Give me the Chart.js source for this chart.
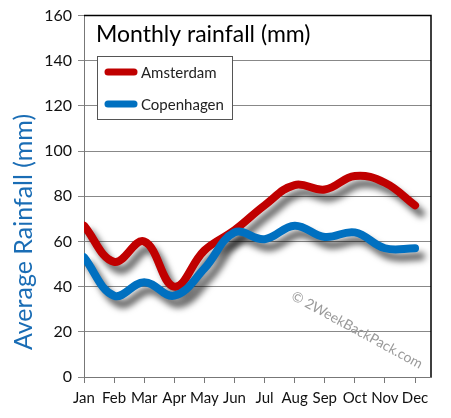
<!DOCTYPE html>
<html>
<head>
<meta charset="utf-8">
<script src="https://cdn.jsdelivr.net/npm/chart.js@4/dist/chart.umd.min.js"></script>
<style>
  html, body { margin: 0; padding: 0; background: #fff; }
  canvas { display: block; }
</style>
</head>
<body>
<canvas id="chart" width="451" height="418"></canvas>
<script>
const months = ["Jan", "Feb", "Mar", "Apr", "May", "Jun", "Jul", "Aug", "Sep", "Oct", "Nov", "Dec"];
const amsterdam = [67, 51, 60, 40, 56, 65, 76, 85, 83, 89, 86, 76];
const copenhagen = [53, 36, 42, 36, 48, 64, 61, 67, 62, 64, 57, 57];
const yMin = 0;
const yMax = 160;
const yStep = 20;

const chartTitle = "Monthly rainfall (mm)";
const yTitle = "Average Rainfall (mm)";
const watermark = "\u00a9 2WeekBackPack.com";

const RED = "#c00000";
const BLUE = "#0070c0";
const FONT = "Lato, 'Open Sans', sans-serif";

const toPoints = (arr) => arr.map((v, i) => ({ x: i, y: v }));

// gray drop shadow under each series
const shadowPlugin = {
  id: "shadow",
  beforeDatasetDraw(chart) {
    const ctx = chart.ctx;
    ctx.save();
    ctx.shadowColor = "rgba(0,0,0,0.6)";
    ctx.shadowBlur = 6;
    ctx.shadowOffsetX = 6;
    ctx.shadowOffsetY = 8;
  },
  afterDatasetDraw(chart) {
    chart.ctx.restore();
  },
};

// frame, title, legend box, axis title and watermark
const decorPlugin = {
  id: "decor",
  beforeDatasetsDraw(chart) {
    const { ctx } = chart;
    ctx.save();
    ctx.translate(357, 330);
    ctx.rotate((28.5 * Math.PI) / 180);
    ctx.fillStyle = "#9a9a9a";
    ctx.font = "14px " + FONT;
    ctx.textAlign = "center";
    ctx.textBaseline = "middle";
    ctx.fillText(watermark, 0, 0);
    ctx.restore();
  },
  afterDraw(chart) {
    const { ctx, chartArea: a } = chart;
    ctx.save();
    // top and right frame
    ctx.strokeStyle = "#000";
    ctx.lineWidth = 1.5;
    ctx.beginPath();
    ctx.moveTo(a.left, a.top);
    ctx.lineTo(a.right, a.top);
    ctx.lineTo(a.right, a.bottom);
    ctx.stroke();

    // chart title
    ctx.fillStyle = "#000";
    ctx.font = "23px " + FONT;
    ctx.textBaseline = "alphabetic";
    ctx.textAlign = "left";
    ctx.fillText(chartTitle, 96, 42);

    // legend box
    ctx.fillStyle = "#fff";
    ctx.fillRect(97, 56, 135, 63);
    ctx.strokeStyle = "#555";
    ctx.lineWidth = 1;
    ctx.strokeRect(97.5, 56.5, 135, 63);
    chart.data.datasets.forEach((ds, i) => {
      const y = 72 + i * 32;
      ctx.strokeStyle = ds.borderColor;
      ctx.lineWidth = 7;
      ctx.lineCap = "round";
      ctx.beginPath();
      ctx.moveTo(108, y);
      ctx.lineTo(134, y);
      ctx.stroke();
      ctx.fillStyle = "#222";
      ctx.font = "15px " + FONT;
      ctx.textBaseline = "middle";
      ctx.fillText(ds.label, 141, y + 1);
    });

    // y axis title
    ctx.translate(24, 232);
    ctx.rotate(-Math.PI / 2);
    ctx.fillStyle = "#1a6db5";
    ctx.font = "25px " + FONT;
    ctx.textAlign = "center";
    ctx.textBaseline = "middle";
    ctx.fillText(yTitle, 0, 0);
    ctx.restore();
  },
};

new Chart(document.getElementById("chart"), {
  type: "line",
  data: {
    datasets: [
      {
        label: "Amsterdam",
        data: toPoints(amsterdam),
        borderColor: RED,
        backgroundColor: RED,
        order: 2,
      },
      {
        label: "Copenhagen",
        data: toPoints(copenhagen),
        borderColor: BLUE,
        backgroundColor: BLUE,
        order: 1,
      },
    ],
  },
  options: {
    responsive: false,
    animation: false,
    devicePixelRatio: 1,
    layout: { padding: { top: 12, right: 20, left: 0, bottom: 0 } },
    elements: {
      line: { borderWidth: 8, tension: 0.4, borderCapStyle: "round", borderJoinStyle: "round" },
      point: { radius: 0 },
    },
    plugins: {
      legend: { display: false },
      tooltip: { enabled: false },
    },
    scales: {
      x: {
        type: "linear",
        min: 0,
        max: 11.53,
        afterFit: (s) => { s.height = 41; },
        ticks: {
          stepSize: 1,
          includeBounds: false,
          autoSkip: false,
          maxRotation: 0,
          padding: 6,
          color: "#111",
          font: { family: FONT, size: 15 },
          callback: (v) => months[v],
        },
        grid: { drawOnChartArea: false, drawTicks: true, tickLength: 6, color: "#777" },
        border: { color: "#777", width: 1 },
      },
      y: {
        min: yMin,
        max: yMax,
        afterFit: (s) => { s.width = 84; },
        ticks: {
          stepSize: yStep,
          padding: 6,
          color: "#111",
          font: { family: FONT, size: 16 },
        },
        grid: { color: "#888", tickLength: 6, lineWidth: 1 },
        border: { color: "#777", width: 1 },
      },
    },
  },
  plugins: [shadowPlugin, decorPlugin],
});
</script>
</body>
</html>
